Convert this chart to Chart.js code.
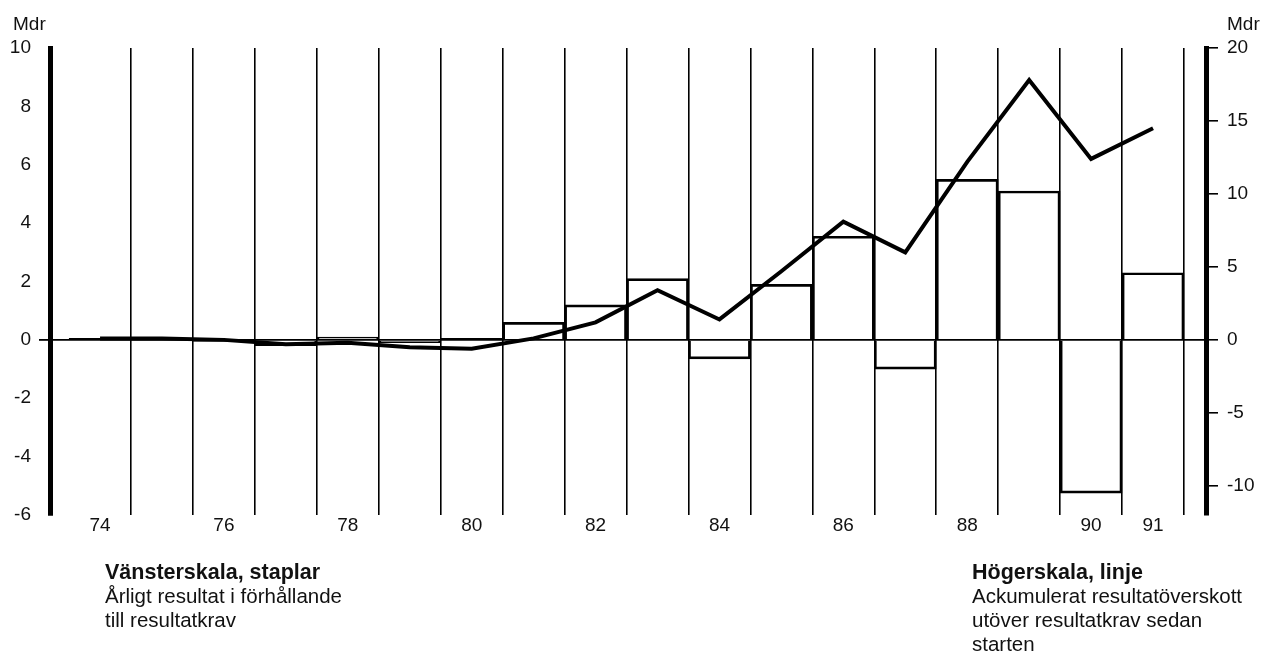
<!DOCTYPE html>
<html><head><meta charset="utf-8">
<script src="https://cdn.jsdelivr.net/npm/chart.js@4/dist/chart.umd.min.js"></script>
<style>
body{margin:0;background:#fff;font-family:'Liberation Sans',Arial,sans-serif;color:#111}
#wrap{position:relative;width:1263px;height:651px;overflow:hidden;background:#fff}
#c{display:block}
.t{position:absolute;font-size:20.5px;line-height:24px;white-space:nowrap;color:#111}
.t b{font-size:21.5px}
.m{position:absolute;font-size:19px;line-height:19px;white-space:nowrap;color:#111}
</style></head><body>
<div id="wrap"><canvas id="c" width="1263" height="651"></canvas>
<div class="m" style="left:13px;top:14px">Mdr</div>
<div class="m" style="left:1227px;top:14px">Mdr</div>
<div class="t" style="left:105px;top:560px"><b>Vänsterskala, staplar</b><br>Årligt resultat i förhållande<br>till resultatkrav</div>
<div class="t" style="left:972px;top:560px"><b>Högerskala, linje</b><br>Ackumulerat resultatöverskott<br>utöver resultatkrav sedan<br>starten</div>
</div>
<script>
const years = [74,75,76,77,78,79,80,81,82,83,84,85,86,87,88,89,90,91];
const barValues = [0.05,0.05,-0.05,-0.2,0.1,-0.1,0.05,0.6,1.2,2.1,-0.65,1.9,3.55,-1.0,5.5,5.1,-5.25,2.3];
const lineValues = [0.1,0.1,0.0,-0.3,-0.2,-0.5,-0.6,0.1,1.2,3.4,1.4,4.7,8.1,6.0,12.2,17.8,12.4,14.5];
const xTickLabels = [74,76,78,80,82,84,86,88,90,91];
const leftTicks = [-6,-4,-2,0,2,4,6,8,10];
const rightTicks = [-10,-5,0,5,10,15,20];

const X_MIN = 73.192, X_MAX = 91.855;
const boundaries = years.map(y => y + 0.5);

Chart.defaults.font.family = "'Liberation Sans', Arial, sans-serif";
Chart.defaults.font.size = 19;
Chart.defaults.color = '#111';

new Chart(document.getElementById('c'), {
  type: 'bar',
  data: {
    datasets: [
      {
        type: 'line',
        data: years.map((yr, i) => ({x: yr, y: lineValues[i]})),
        xAxisID: 'x', yAxisID: 'y2',
        borderColor: '#000', borderWidth: 4, pointRadius: 0, tension: 0,
        fill: false, borderJoinStyle: 'miter', order: 0
      },
      {
        type: 'bar',
        data: years.map((yr, i) => ({x: yr, y: barValues[i]})),
        xAxisID: 'x', yAxisID: 'y',
        backgroundColor: 'rgba(0,0,0,0)', borderColor: '#000', borderWidth: 2,
        borderSkipped: 'start', barPercentage: 1, categoryPercentage: 1, order: 1
      }
    ]
  },
  options: {
    responsive: false, animation: false, devicePixelRatio: 1,
    layout: {padding: {top: 48, left: 0, right: 0, bottom: 0}},
    plugins: {legend: {display: false}, tooltip: {enabled: false}},
    scales: {
      x: {
        type: 'linear', position: 'bottom', min: X_MIN, max: X_MAX, offset: false,
        afterBuildTicks: s => { s.ticks = boundaries.map(v => ({value: v})); },
        ticks: {display: false},
        grid: {color: '#000', lineWidth: 1.6, drawTicks: false, offset: false},
        border: {display: false},
        afterFit: s => { s.height = 0; }
      },
      xl: {
        type: 'linear', position: 'bottom', min: X_MIN, max: X_MAX, offset: false,
        afterBuildTicks: s => { s.ticks = xTickLabels.map(v => ({value: v})); },
        ticks: {autoSkip: false, maxRotation: 0, minRotation: 0, padding: -1, callback: v => String(v)},
        grid: {display: false, drawTicks: false, offset: false},
        border: {display: false},
        afterFit: s => { s.height = 136; }
      },
      y: {
        type: 'linear', position: 'left', min: -6, max: 10,
        afterBuildTicks: s => { s.ticks = leftTicks.map(v => ({value: v})); },
        ticks: {padding: 8, callback: v => String(v)},
        grid: {
          color: ctx => (ctx.tick && ctx.tick.value === 0) ? '#000' : 'rgba(0,0,0,0)',
          lineWidth: 1.8, tickLength: 11
        },
        border: {display: true, color: '#000', width: 5},
        afterFit: s => { s.width = 50; }
      },
      y2: {
        type: 'linear', position: 'right', min: -12, max: 20,
        afterBuildTicks: s => { s.ticks = rightTicks.map(v => ({value: v})); },
        ticks: {padding: 9, callback: v => String(v)},
        grid: {drawOnChartArea: false, color: '#000', lineWidth: 1.6, tickLength: 12},
        border: {display: true, color: '#000', width: 5},
        afterFit: s => { s.width = 57; }
      }
    }
  }
});
</script>
</body></html>
